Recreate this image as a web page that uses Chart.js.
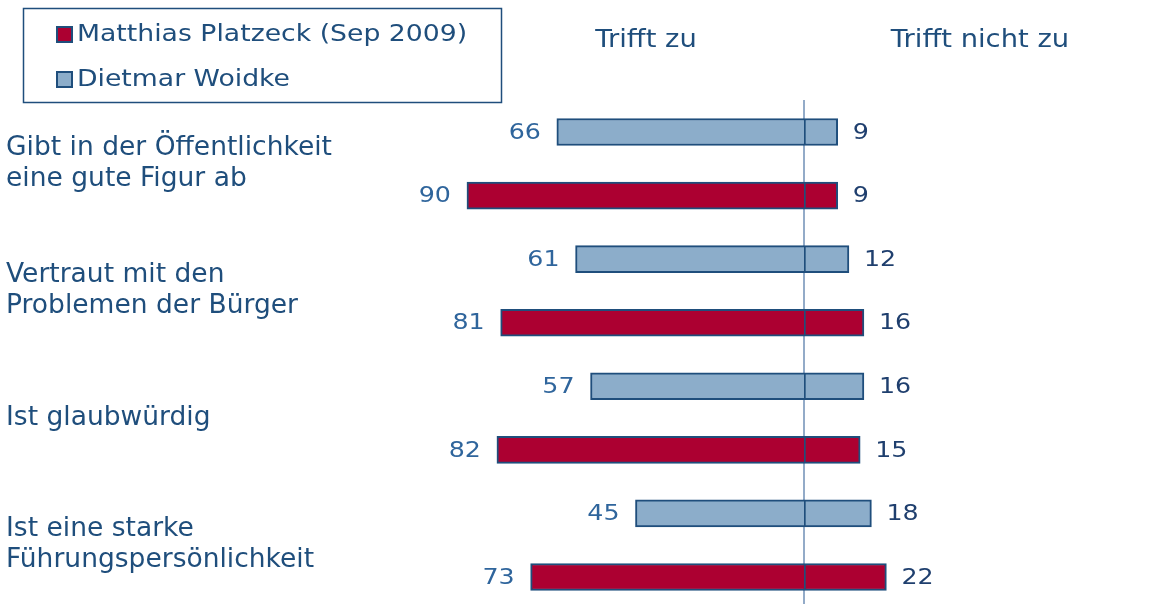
<!DOCTYPE html>
<html><head><meta charset="utf-8">
<script src="https://cdn.jsdelivr.net/npm/chart.js@4"></script>
<style>html,body{margin:0;padding:0;background:#fff}canvas{display:block}</style>
</head><body>
<canvas id="c" width="1150" height="604"></canvas>
<script>
const categories = [
  ["Gibt in der Öffentlichkeit", "eine gute Figur ab"],
  ["Vertraut mit den", "Problemen der Bürger"],
  ["Ist glaubwürdig"],
  ["Ist eine starke", "Führungspersönlichkeit"]
];
const seriesNames = ["Matthias Platzeck (Sep 2009)", "Dietmar Woidke"];
const headers = ["Trifft zu", "Trifft nicht zu"];
const woidkeZu = [66, 61, 57, 45];
const woidkeNicht = [9, 12, 16, 18];
const platzeckZu = [90, 81, 82, 73];
const platzeckNicht = [9, 16, 15, 22];

const RED = '#AC0031', BLUE = '#8CADCA', BORDER = '#1F4E7C';
const FONT = '"DejaVu Sans", Verdana, sans-serif';

const rowLabels = [];
const wLeft = [], wRight = [], pLeft = [], pRight = [];
categories.forEach((c, i) => {
  rowLabels.push('W' + i, 'P' + i);
  wLeft.push(-woidkeZu[i], null);
  wRight.push(woidkeNicht[i], null);
  pLeft.push(null, -platzeckZu[i]);
  pRight.push(null, platzeckNicht[i]);
});

const common = { borderColor: BORDER, borderWidth: 2, barThickness: 27, clip: false };
const datasets = [
  Object.assign({ label: seriesNames[1] + ' zu', data: wLeft, backgroundColor: BLUE, borderSkipped: 'start', side: 'L' }, common),
  Object.assign({ label: seriesNames[1] + ' nicht', data: wRight, backgroundColor: BLUE, borderSkipped: false, side: 'R' }, common),
  Object.assign({ label: seriesNames[0] + ' zu', data: pLeft, backgroundColor: RED, borderSkipped: 'start', side: 'L' }, common),
  Object.assign({ label: seriesNames[0] + ' nicht', data: pRight, backgroundColor: RED, borderSkipped: false, side: 'R' }, common)
];

function stretchText(ctx, t, x, y, sx) {
  ctx.save();
  ctx.translate(x, y);
  ctx.scale(sx, 1);
  ctx.fillText(t, 0, 0);
  ctx.restore();
}

const decor = {
  id: 'decor',
  beforeDatasetsDraw(chart) {
    const ctx = chart.ctx, x0 = chart.scales.x.getPixelForValue(0);
    ctx.save();
    ctx.strokeStyle = '#6F8FB6';
    ctx.lineWidth = 1.5;
    ctx.beginPath(); ctx.moveTo(x0, 100); ctx.lineTo(x0, 604); ctx.stroke();
    ctx.restore();
  },
  afterDatasetsDraw(chart) {
    const ctx = chart.ctx;
    const ys = chart.scales.y;
    ctx.save();
    ctx.font = '22px ' + FONT;
    ctx.textBaseline = 'middle';
    chart.data.datasets.forEach((ds, di) => {
      const meta = chart.getDatasetMeta(di);
      meta.data.forEach((el, j) => {
        const v = ds.data[j];
        if (v === null || v === undefined) return;
        const t = String(Math.abs(v));
        const w = ctx.measureText(t).width * 1.15;
        if (ds.side === 'L') {
          ctx.fillStyle = '#2F659C';
          ctx.textAlign = 'left';
          stretchText(ctx, t, el.x - 16 - w, el.y + 1, 1.15);
        } else {
          ctx.fillStyle = '#1F3F6E';
          ctx.textAlign = 'left';
          stretchText(ctx, t, el.x + 15, el.y + 1, 1.15);
        }
      });
    });
    // category labels
    ctx.fillStyle = '#1F4E7C';
    ctx.textAlign = 'left';
    ctx.font = '26px ' + FONT;
    categories.forEach((lines, i) => {
      const yc = (ys.getPixelForValue(2 * i) + ys.getPixelForValue(2 * i + 1)) / 2;
      const lh = 31;
      lines.forEach((t, k) => {
        stretchText(ctx, t, 6, yc + (k - (lines.length - 1) / 2) * lh, 1.02);
      });
    });
    // headers
    ctx.font = '24px ' + FONT;
    ctx.textAlign = 'center';
    stretchText(ctx, headers[0], 646, 41, 1.14);
    stretchText(ctx, headers[1], 980, 41, 1.14);
    // legend
    ctx.strokeStyle = '#1F4E7C';
    ctx.lineWidth = 1.5;
    ctx.strokeRect(23.5, 8.5, 478, 94);
    const items = [[seriesNames[0], RED, 34], [seriesNames[1], BLUE, 79]];
    ctx.font = '23px ' + FONT;
    ctx.textAlign = 'left';
    items.forEach(([t, col, y]) => {
      ctx.fillStyle = col;
      ctx.fillRect(57, y - 7, 15, 15);
      ctx.strokeStyle = '#1F4E7C';
      ctx.lineWidth = 2;
      ctx.strokeRect(57, y - 7, 15, 15);
      ctx.fillStyle = '#1F4E7C';
      stretchText(ctx, t, 77, y + 1, 1.16);
    });
    ctx.restore();
  }
};

new Chart(document.getElementById('c'), {
  type: 'bar',
  data: { labels: rowLabels, datasets },
  options: {
    indexAxis: 'y',
    responsive: false,
    animation: false,
    layout: { padding: { left: 429.5, right: 158.75, top: 132, bottom: 27 } },
    scales: {
      x: { stacked: true, min: -100, max: 50, display: false },
      y: { stacked: true, offset: false, display: false }
    },
    plugins: { legend: { display: false }, tooltip: { enabled: false } }
  },
  plugins: [decor]
});
</script>
</body></html>
